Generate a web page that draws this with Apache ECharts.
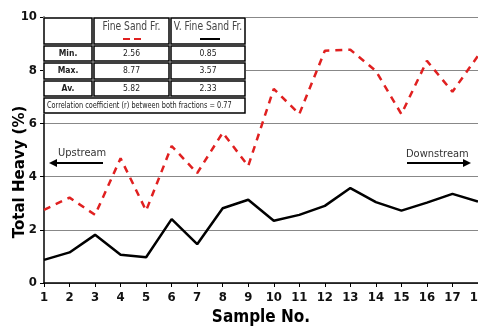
<!DOCTYPE html>
<html><head><meta charset="utf-8">
<script src="https://cdn.jsdelivr.net/npm/echarts@6/dist/echarts.min.js"></script>
<style>html,body{margin:0;padding:0;background:#fff}#c{width:478px;height:326px}</style>
</head><body><div id="c"></div>
<script>
const samples = ['1','2','3','4','5','6','7','8','9','10','11','12','13','14','15','16','17','18'];
const fineSand = [2.75,3.21,2.56,4.69,2.72,5.15,4.13,5.65,4.4,7.3,6.35,8.73,8.77,7.97,6.35,8.35,7.19,8.54];
const vFineSand = [0.87,1.15,1.81,1.06,0.97,2.4,1.46,2.81,3.13,2.34,2.56,2.9,3.57,3.04,2.72,3.02,3.35,3.06];
const tableHeader = ['', 'Fine Sand Fr.', 'V. Fine Sand Fr.'];
const tableRows = [['Min.','2.56','0.85'],['Max.','8.77','3.57'],['Av.','5.82','2.33']];
const corrText = 'Correlation coefficient (r) between both fractions = 0.77';

const NF = "'DejaVu Sans Condensed','Liberation Sans Narrow',sans-serif";
const chart = echarts.init(document.getElementById('c'));

const colX = [43, 93, 170, 246];
const rowY = [17, 45, 62, 80, 97, 114];
const g = [];
g.push({type:'rect', shape:{x:colX[0],y:rowY[0],width:colX[3]-colX[0],height:rowY[5]-rowY[0]}, style:{fill:'#fff'}, z:10});
for (let r=0;r<4;r++){
  for (let c=0;c<3;c++){
    g.push({type:'rect', shape:{x:colX[c]+1,y:rowY[r]+1,width:colX[c+1]-colX[c]-2,height:rowY[r+1]-rowY[r]-2}, style:{fill:'#fff',stroke:'#000',lineWidth:1.5}, z:11});
  }
}
g.push({type:'rect', shape:{x:colX[0]+1,y:rowY[4]+1,width:colX[3]-colX[0]-2,height:rowY[5]-rowY[4]-2}, style:{fill:'#fff',stroke:'#000',lineWidth:1.5}, z:11});
for (let c=1;c<3;c++){
  g.push({type:'text', x:(colX[c]+colX[c+1])/2, y:27, scaleX:0.85, style:{text:tableHeader[c], font:"12px "+NF, fill:'#444', align:'center', verticalAlign:'middle'}, z:12});
}
g.push({type:'line', shape:{x1:123,y1:39,x2:130,y2:39}, style:{stroke:'#e02020',lineWidth:2}, z:12});
g.push({type:'line', shape:{x1:134,y1:39,x2:141,y2:39}, style:{stroke:'#e02020',lineWidth:2}, z:12});
g.push({type:'line', shape:{x1:200,y1:39,x2:220,y2:39}, style:{stroke:'#000',lineWidth:2}, z:12});
for (let r=0;r<3;r++){
  for (let c=0;c<3;c++){
    g.push({type:'text', x:(colX[c]+colX[c+1])/2, y:(rowY[r+1]+rowY[r+2])/2, style:{text:tableRows[r][c], font:(c===0?'bold ':'')+"8.5px "+NF, fill:'#222', align:'center', verticalAlign:'middle'}, z:12});
  }
}
g.push({type:'text', x:47, y:(rowY[4]+rowY[5])/2, scaleX:0.81, style:{text:corrText, font:"9px "+NF, fill:'#222', align:'left', verticalAlign:'middle'}, z:12});
g.push({type:'text', x:58, y:153, style:{text:'Upstream', font:"11px "+NF, fill:'#333', align:'left', verticalAlign:'middle'}, z:12});
g.push({type:'line', shape:{x1:54,y1:163,x2:103,y2:163}, style:{stroke:'#000',lineWidth:2}, z:12});
g.push({type:'polygon', shape:{points:[[49,163],[57,159],[57,167]]}, style:{fill:'#000'}, z:12});
g.push({type:'text', x:406, y:154, style:{text:'Downstream', font:"11px "+NF, fill:'#333', align:'left', verticalAlign:'middle'}, z:12});
g.push({type:'line', shape:{x1:407,y1:163,x2:466,y2:163}, style:{stroke:'#000',lineWidth:2}, z:12});
g.push({type:'polygon', shape:{points:[[471,163],[463,159],[463,167]]}, style:{fill:'#000'}, z:12});
g.push({type:'text', x:20, y:172, rotation:Math.PI/2, style:{text:'Total Heavy (%)', font:"bold 15px 'DejaVu Sans',sans-serif", fill:'#000', align:'center', verticalAlign:'middle'}, z:12});

chart.setOption({
  animation:false,
  grid:{left:44, top:17, width:434, height:266, containLabel:false, outerBoundsMode:'none'},
  xAxis:{type:'category', data:samples, boundaryGap:false,
    name:'Sample No.', nameLocation:'middle', nameGap:26,
    nameTextStyle:{fontFamily:NF, fontWeight:'bold', fontSize:17, color:'#000'},
    axisLine:{lineStyle:{color:'#000', width:1.5}},
    axisTick:{show:true, length:4, lineStyle:{color:'#000'}},
    axisLabel:{fontFamily:NF, fontWeight:'bold', fontSize:13, color:'#111', margin:8, interval:0},
    splitLine:{show:false}},
  yAxis:{type:'value', min:0, max:10, interval:2,
    axisLine:{show:true, lineStyle:{color:'#000', width:1.5}},
    axisTick:{show:true, length:4, lineStyle:{color:'#000'}},
    axisLabel:{fontFamily:NF, fontWeight:'bold', fontSize:13, color:'#111', margin:7},
    splitLine:{lineStyle:{color:'#888', width:1}}},
  series:[
    {type:'line', data:fineSand, symbol:'none', lineStyle:{color:'#e02020', width:2.5, type:[7,6]}, z:5},
    {type:'line', data:vFineSand, symbol:'none', lineStyle:{color:'#000', width:2.5}, z:5}
  ],
  graphic:g
});
</script></body></html>
